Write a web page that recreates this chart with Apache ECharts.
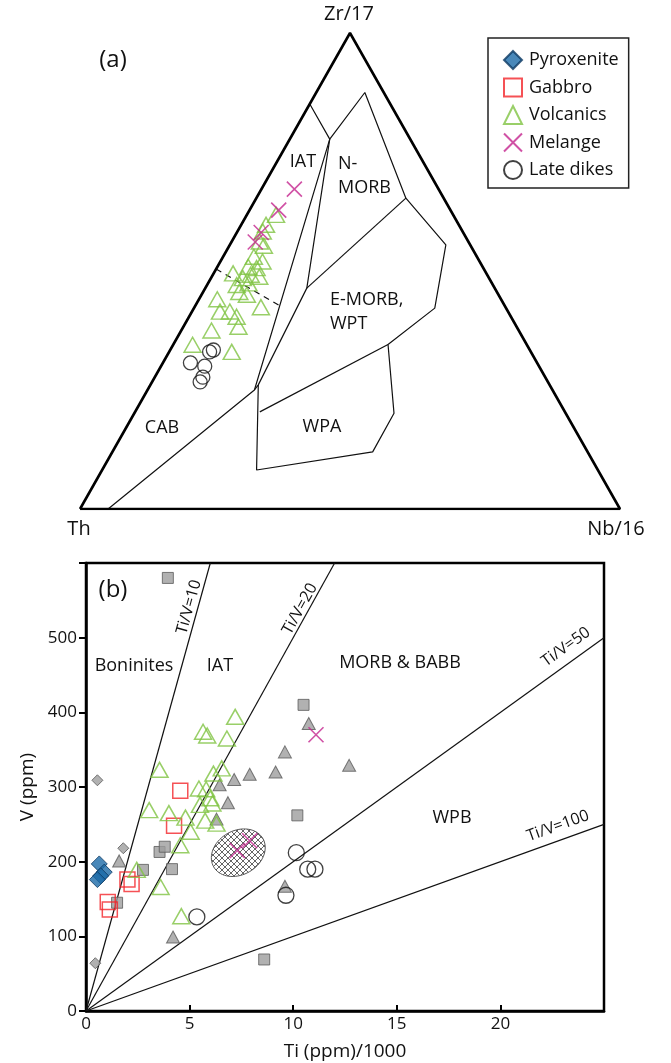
<!DOCTYPE html>
<html><head><meta charset="utf-8">
<script src="https://cdn.jsdelivr.net/npm/echarts@6/dist/echarts.min.js"></script>
<style>html,body{margin:0;padding:0;background:#fff}#c{width:671px;height:1063px}</style>
</head><body><div id="c"></div>
<script>
// ===== Panel (a): ternary Th – Zr/17 – Nb/16, each point as [Th, Zr/17, Nb/16] in %
const ternVolcanics = [[32.8,61.8,5.4],[35.7,59.7,4.6],[37.0,58.3,4.7],[38.6,56.2,5.2],[38.3,55.3,6.4],
  [41.3,53.0,5.7],[40.2,52.0,7.8],[43.4,50.9,5.7],[42.0,50.6,7.4],[46.9,49.5,3.6],[43.8,49.2,7.0],
  [45.6,48.5,5.9],[42.4,48.8,8.8],[47.5,47.1,5.5],[45.1,47.4,7.5],[47.7,45.6,6.7],[46.6,45.0,8.4],
  [45.3,42.4,12.3],[52.6,44.1,3.4],[53.4,41.5,5.2],[51.5,41.5,7.0],[50.8,40.4,8.8],[51.5,38.3,10.2],
  [56.9,37.5,5.6],[61.9,34.5,3.6],[55.4,33.0,11.6]];
const ternMelange = [[26.7,67.2,6.1],[31.8,62.8,5.4],[37.4,58.1,4.5],[39.5,56.1,4.4]];
const ternLateDikes = [[58.6,33.4,8.0],[59.5,33.0,7.5],[64.2,30.7,5.1],[61.9,30.0,8.1],[63.4,27.7,8.9],[64.4,26.7,8.9]];
// field boundary vertices (Th, Zr/17, Nb/16 %)
const fA=[14.9,85.1,0], fB=[14.9,77.7,7.4], fC=[3.5,87.5,9.0], fD=[7.0,65.3,27.7], fE=[4.5,55.5,40.0],
      fF=[13.2,42.2,44.6], fG=[25.7,34.6,39.8], fH=[31.8,20.1,48.1], fI=[39.8,12.0,48.2], fJ=[63.2,8.2,28.6],
      fK=[54.0,26.1,20.0], fL=[56.5,20.4,23.1], fM=[34.8,46.4,18.8], fN=[55.2,25.0,19.8], fO=[94.8,0,5.2];
const ternFieldLines = [[fA,fB,fC,fD,fE,fF,fG,fH,fI,fJ,fK],[fB,fN,fO],[fB,fM,fK,fN],[fD,fM],[fL,fG]];
const ternDashed = [[49.6,50.4,0],[41.4,42.5,16.1]];
const ternFrame = [[100,0,0],[0,100,0],[0,0,100],[100,0,0]];

// ===== Panel (b): Ti(ppm)/1000 vs V(ppm)
const pyroxenite = [[0.64,197],[0.88,186],[0.71,181],[0.55,176]];
const gabbro = [[4.55,295],[4.25,248],[2.0,176],[2.2,170],[1.05,146],[1.15,136]];
const volcanics = [[7.2,394],[5.65,374],[5.85,369],[6.8,365],[3.55,323],[6.55,325],[6.15,318],[5.45,298],
  [5.8,297],[6.0,285],[6.1,278],[5.5,276],[3.05,269],[4.0,265],[4.8,259],[5.75,255],[6.3,251],[5.05,240],
  [4.55,222],[2.45,189],[3.6,166],[4.6,127]];
const melange = [[11.1,370],[7.3,215],[7.9,228]];
const lateDikes = [[5.35,126],[10.15,212],[10.7,190],[11.05,190],[9.65,155]];
const refSquares = [[3.95,580],[10.5,410],[10.2,262],[3.55,213],[3.8,220],[2.75,189],[4.15,190],[1.5,145],[8.6,69]];
const refTriangles = [[10.75,385],[9.6,347],[12.7,329],[9.15,320],[7.9,317],[7.15,310],[6.45,303],[6.85,279],
  [6.3,257],[1.6,201],[4.2,99],[9.6,167]];
const refDiamonds = [[0.55,309],[1.8,218],[0.45,64]];
const melangeField = [[7.35, 212, 1.37, 29.5, 30]]; // centre Ti, centre V, half-size Ti, half-size V, tilt deg
const tiVRatios = [10, 20, 50, 100];
const xTickLabels = [0, 5, 10, 15, 20];
const yTickLabels = [0, 100, 200, 300, 400, 500];
const X_MAX = 25, Y_MAX = 600;

// ---------------------------------------------------------------
const FONT = '"Open Sans", "Noto Sans", sans-serif';
const tern = p => { const s = p[0] + p[1] + p[2]; return [(p[2] + p[1] / 2) / s, p[1] / s]; };
const GREEN = '#80c342', RED = '#f2262b', MAG = '#c4268f', BLUE = '#1b6aa8';

const series = [];
series.push({ type:'line', xAxisIndex:0, yAxisIndex:0, data: ternFrame.map(tern), symbol:'none', silent:true,
  lineStyle:{ color:'#000', width:2.6 }, z:3, animation:false });
ternFieldLines.forEach(pl => series.push({ type:'line', xAxisIndex:0, yAxisIndex:0, data: pl.map(tern), symbol:'none',
  silent:true, lineStyle:{ color:'#111', width:1.2 }, z:2, animation:false }));
series.push({ type:'line', xAxisIndex:0, yAxisIndex:0, data: ternDashed.map(tern), symbol:'none', silent:true,
  lineStyle:{ color:'#111', width:1.2, type:[6,5] }, z:2, animation:false });

const st = {
  Volcanics: { symbol:'triangle', symbolSize:[17,15], itemStyle:{ color:'rgba(0,0,0,0)', borderColor:GREEN, borderWidth:1.5 } },
  Melange:   { symbol:'path://M0,0L10,10M10,0L0,10', symbolSize:15, itemStyle:{ color:'rgba(0,0,0,0)', borderColor:MAG, borderWidth:1.6 } },
  'Late dikes': { symbol:'circle', symbolSize:16, itemStyle:{ color:'rgba(0,0,0,0)', borderColor:'#111', borderWidth:1.3 } },
  Pyroxenite: { symbol:'diamond', symbolSize:16, itemStyle:{ color:BLUE, borderColor:'#0c3a63', borderWidth:1 } },
  Gabbro:    { symbol:'rect', symbolSize:15, itemStyle:{ color:'rgba(0,0,0,0)', borderColor:RED, borderWidth:1.5 } }
};
function sc(name, data, xi, extra) {
  return Object.assign({ type:'scatter', name, xAxisIndex:xi, yAxisIndex:xi, data, animation:false, z:5 }, st[name], extra || {});
}
series.push(sc('Pyroxenite', pyroxenite, 1));
series.push(sc('Gabbro', gabbro, 1));
series.push(sc('Volcanics', volcanics, 1));
series.push(sc('Melange', melange, 1));
series.push(sc('Late dikes', lateDikes, 1));
series.push(sc('Volcanics', ternVolcanics.map(tern), 0));
series.push(sc('Melange', ternMelange.map(tern), 0));
series.push(sc('Late dikes', ternLateDikes.map(tern), 0, { symbolSize:14 }));

const grey = { color:'#9d9d9d', borderColor:'#5a5a5a', borderWidth:1 };
series.push({ type:'scatter', name:'refS', xAxisIndex:1, yAxisIndex:1, data:refSquares, symbol:'rect', symbolSize:11, itemStyle:grey, z:4, animation:false });
series.push({ type:'scatter', name:'refT', xAxisIndex:1, yAxisIndex:1, data:refTriangles, symbol:'triangle', symbolSize:[13,12], itemStyle:grey, z:4, animation:false });
series.push({ type:'scatter', name:'refD', xAxisIndex:1, yAxisIndex:1, data:refDiamonds, symbol:'diamond', symbolSize:11, itemStyle:grey, z:4, animation:false });

tiVRatios.forEach(r => {
  const xEnd = Math.min(X_MAX, Y_MAX * r / 1000);
  series.push({ type:'line', xAxisIndex:1, yAxisIndex:1, data:[[0,0],[xEnd, xEnd*1000/r]], symbol:'none', silent:true,
    lineStyle:{ color:'#111', width:1.2 }, z:2, animation:false });
});

const pc = document.createElement('canvas'); pc.width = 6; pc.height = 6;
const g = pc.getContext('2d'); g.strokeStyle = '#555'; g.lineWidth = 0.9;
g.beginPath(); g.moveTo(0,0); g.lineTo(6,6); g.moveTo(6,0); g.lineTo(0,6); g.stroke();
series.push({ type:'custom', xAxisIndex:1, yAxisIndex:1, data: melangeField, z:3, animation:false,
  renderItem(params, api) {
    const c = api.coord([api.value(0), api.value(1)]);
    const s = api.size([api.value(2), api.value(3)]);
    const t = -api.value(4) * Math.PI / 180, pts = [];
    for (let i = 0; i < 72; i++) {
      const a = i / 72 * Math.PI * 2, ex = s[0] * Math.cos(a), ey = s[1] * Math.sin(a);
      pts.push([c[0] + ex * Math.cos(t) - ey * Math.sin(t), c[1] + ex * Math.sin(t) + ey * Math.cos(t)]);
    }
    return { type:'polygon', shape:{ points:pts }, style:{ fill:{ image:pc, repeat:'repeat' }, stroke:'#555', lineWidth:1 } };
  } });

const labels = [
  ['(a)', 113, 60, 24, 0, 'center'], ['Zr/17', 349, 14, 20, 0, 'center'], ['Th', 79, 529, 20, 0, 'center'],
  ['Nb/16', 616, 529, 20, 0, 'center'], ['IAT', 303, 162, 18, 0, 'center'], ['N-', 338, 164, 18, 0, 'left'],
  ['MORB', 338, 188, 18, 0, 'left'], ['E-MORB,', 330, 300, 18, 0, 'left'], ['WPT', 330, 324, 18, 0, 'left'],
  ['WPA', 322, 427, 18, 0, 'center'], ['CAB', 162, 428, 18, 0, 'center'],
  ['(b)', 113, 590, 24, 0, 'center'], ['Boninites', 134, 666, 18, 0, 'center'], ['IAT', 220, 666, 18, 0, 'center'],
  ['MORB & BABB', 400, 663, 18, 0, 'center'], ['WPB', 452, 818, 18, 0, 'center'],
  ['Ti/V=10', 189, 607, 16, 74.5, 'center'], ['Ti/V=20', 300, 609, 16, 61, 'center'],
  ['Ti/V=50', 566, 647, 16, 35.8, 'center'], ['Ti/V=100', 558, 826, 16, 19.8, 'center']
];
const graphic = labels.map(l => ({ type:'text', x:l[1], y:l[2], rotation:l[4]*Math.PI/180, silent:true, z:10,
  style:{ text:l[0], x:0, y:0, align:l[5], verticalAlign:'middle', fill:'#111', font:`${l[3]}px ${FONT}` } }));

const chart = echarts.init(document.getElementById('c'), null, { renderer:'canvas' });
chart.setOption({
  animation:false, backgroundColor:'#fff',
  textStyle:{ fontFamily: FONT },
  grid:[
    { left:80, top:33, width:540, height:476, show:false },
    { left:86, top:563, width:518, height:448, show:true, borderColor:'#000', borderWidth:2.5, backgroundColor:'transparent' }
  ],
  xAxis:[
    { gridIndex:0, type:'value', min:0, max:1, show:false },
    { gridIndex:1, type:'value', min:0, max:X_MAX, interval:5,
      axisLine:{ lineStyle:{ color:'#000', width:2.5 } }, axisTick:{ inside:true, length:6, lineStyle:{ color:'#000', width:2 } },
      axisLabel:{ formatter: v => xTickLabels.includes(v) ? String(v) : '', fontSize:17, color:'#111', margin:5, fontFamily:FONT },
      splitLine:{ show:false }, name:'Ti (ppm)/1000', nameLocation:'middle', nameGap:31,
      nameTextStyle:{ fontSize:19, color:'#111', fontFamily:FONT } }
  ],
  yAxis:[
    { gridIndex:0, type:'value', min:0, max:1, show:false },
    { gridIndex:1, type:'value', min:0, max:Y_MAX, interval:100,
      axisLine:{ lineStyle:{ color:'#000', width:2.5 } }, axisTick:{ inside:false, length:7, lineStyle:{ color:'#000', width:2 } },
      axisLabel:{ formatter: v => yTickLabels.includes(v) ? String(v) : '', fontSize:17, color:'#111', margin:9, fontFamily:FONT },
      splitLine:{ show:false }, name:'V (ppm)', nameLocation:'middle', nameGap:36,
      nameTextStyle:{ fontSize:19, color:'#111', fontFamily:FONT } }
  ],
  legend:{ orient:'vertical', left:488, top:38, padding:[12,10,8,15], itemGap:7.5, itemWidth:18, itemHeight:18,
    selectedMode:false, borderColor:'#222', borderWidth:1.5, backgroundColor:'#fff',
    textStyle:{ fontSize:18, lineHeight:18, color:'#111', fontFamily:FONT, padding:[0,0,0,2] },
    data:['Pyroxenite','Gabbro','Volcanics','Melange','Late dikes'] },
  graphic,
  series
});
</script></body></html>
